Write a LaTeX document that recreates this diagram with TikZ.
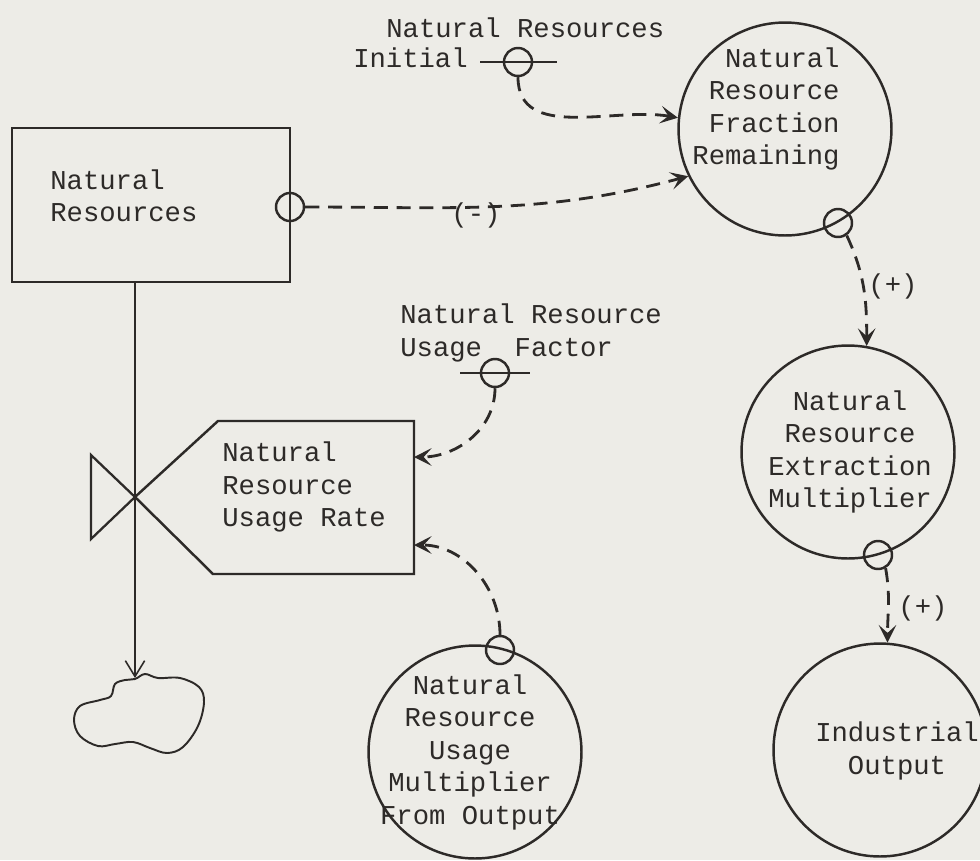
\documentclass[tikz,border=0pt]{standalone}
\usepackage{fontspec}
\newfontfamily\typewriter{Liberation Mono}
\usetikzlibrary{arrows.meta,calc}

\definecolor{paper}{RGB}{237,236,231}
\definecolor{ink}{RGB}{45,42,40}

\tikzset{
  bigcircle/.style={draw=ink, line width=1.4pt, circle, minimum size=4.26cm, inner sep=0pt},
  tap/.style={draw=ink, line width=1.4pt, circle, minimum size=0.56cm, inner sep=0pt},
  infolink/.style={draw=ink, line width=1.6pt, dash pattern=on 8pt off 5pt,
    -{Stealth[length=10pt,width=10pt,inset=4.5pt]}},
  words/.style={text=ink, font=\typewriter\fontsize{15.5}{18.5}\selectfont, inner sep=0pt},
}

\begin{document}
\begin{tikzpicture}[x=0.02cm, y=-0.02cm]
    \fill[paper] (0,0) rectangle (980,860);
    \clip (0,0) rectangle (980,860);

    % level
    \node[draw=ink, line width=1.4pt, minimum width=5.56cm, minimum height=3.08cm] (stock) at (151,205) {};
    \node[words, anchor=west, align=left] (stocktext) at (50,196) {Natural\\Resources};
    \node[tap] (stocktap) at (290,207) {};

    % rate with valve
    \coordinate (valve) at (135,497);
    \coordinate (ratein1) at (414,457);
    \coordinate (ratein2) at (414,545);
    \coordinate (sink) at (135,678);
    \draw[ink, line width=1.3pt] (valve) -- (91,455) -- (91,539) -- cycle;
    \draw[ink, line width=1.4pt] (valve) -- (218,421) -- (414,421) -- (414,574) -- (213,574) -- cycle;
    \node[words, anchor=west, align=left] (ratetext) at (222,487) {Natural\\Resource\\Usage Rate};
    \draw[ink, line width=0.9pt, -{Straight Barb[length=9pt,width=11pt]}] (stock.south -| valve) -- (sink);

    % sink cloud
    \draw[ink, line width=1.1pt] plot[smooth cycle, tension=0.6] coordinates {
      (135,679) (145,674) (158,678) (180,678) (199,687) (204,702) (198,726) (183,747)
      (167,753) (150,748) (133,742) (115,744) (98,746) (80,736) (74,720) (80,706)
      (100,700) (111,696) (115,684) (125,680)};

    % auxiliaries
    \node[bigcircle] (nrfr) at (785,129) {};
    \node[words, align=right] (nrfrtext) at (766,109) {Natural\\Resource\\Fraction\\Remaining};
    \node[tap] (nrfrtap) at (838,223) {};

    \node[bigcircle] (nrem) at (848,452) {};
    \node[words, align=center] (nremtext) at (850,452) {Natural\\Resource\\Extraction\\Multiplier};
    \node[tap] (nremtap) at (878,555) {};

    \node[bigcircle] (io) at (880,750) {};
    \node[words, align=center] (iotext) at (897,751) {Industrial\\Output};

    \node[bigcircle] (nrumfo) at (475,752) {};
    \node[words, align=center] (nrumfotext) at (470,752) {Natural\\Resource\\Usage\\Multiplier\\From Output};
    \node[tap] (nrumfotap) at (500,650) {};

    % constants
    \node[tap] (nri) at (518,62) {};
    \draw[ink, line width=1.4pt] ($(nri)+(-38,0)$) -- ($(nri)+(39,0)$);
    \node[words, anchor=west] (nritext) at (386,28) {Natural Resources};
    \node[words, anchor=east] (nritext2) at (468,58) {Initial};

    \node[tap] (nruf) at (495,373) {};
    \draw[ink, line width=1.4pt] ($(nruf)+(-35,0)$) -- ($(nruf)+(35,0)$);
    \node[words, anchor=west, align=left] (nruftext) at (400,333) {Natural Resource\\Usage\ \ Factor};

    % information links
    \draw[infolink] (nri.south) to[out=-90, in=170] (nrfr.174);
    \draw[infolink] (stocktap.east) to[out=0, in=195] (nrfr.206);
    \node[words] (minus) at (476,215) {(-)};
    \draw[infolink] (nrfrtap.-55) to[out=-65, in=90] (nrem.80);
    \node[words] (plus1) at (893,286) {(+)};
    \draw[infolink] (nremtap.-60) to[out=-80, in=90] (io.86);
    \node[words] (plus2) at (923,608) {(+)};
    \draw[infolink] (nruf.south) to[out=-90, in=0] (ratein1);
    \draw[infolink] (nrumfotap.north) to[out=90, in=0] (ratein2);
\end{tikzpicture}
\end{document}
